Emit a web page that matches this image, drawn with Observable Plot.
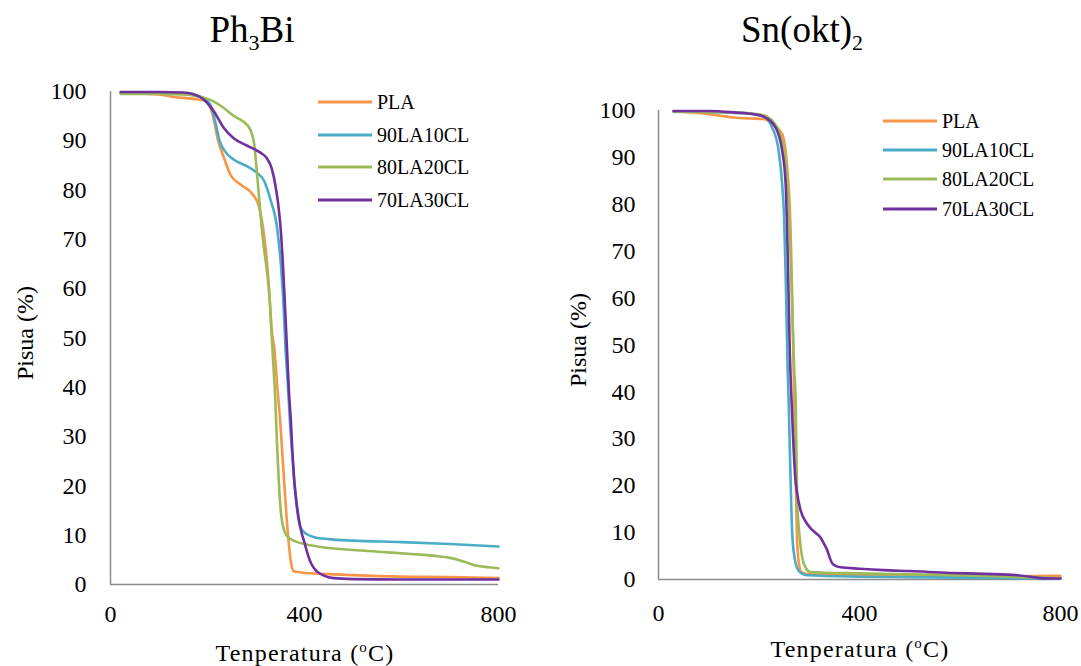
<!DOCTYPE html>
<html>
<head>
<meta charset="utf-8">
<script src="https://cdn.jsdelivr.net/npm/d3@7"></script>
<script src="https://cdn.jsdelivr.net/npm/@observablehq/plot@0.6"></script>
<style>
  body { margin: 0; background: #fff; }
  #root { position: relative; width: 1081px; height: 666px; font-family: "Liberation Serif", "Times New Roman", "DejaVu Serif", serif; color: #000; overflow: hidden; }
  .abs { position: absolute; white-space: nowrap; }
  .title { font-size: 37px; transform: translateX(-50%); }
  .axt { font-size: 24px; }
  .xt { letter-spacing: 1.2px; }
  .leg { font-size: 20px; display: flex; align-items: center; }
  .leg span.sw { display: inline-block; width: 54px; height: 3px; margin-right: 5px; }
  svg text { font-family: "Liberation Serif", "Times New Roman", "DejaVu Serif", serif; }
</style>
</head>
<body>
<div id="root"></div>
<script>
// ---------- data ----------
const seriesNames = ["PLA", "90LA10CL", "80LA20CL", "70LA30CL"];
const seriesColors = ["#F79646", "#4BACC6", "#9BBB59", "#7030A0"];
const xTicks = [0, 400, 800];
const yTicks = [0, 10, 20, 30, 40, 50, 60, 70, 80, 90, 100];
const panelTitles = ["Ph<sub style='font-size:22px'>3</sub>Bi", "Sn(okt)<sub style='font-size:22px'>2</sub>"];

// Panel 1: Ph3Bi  [temperature °C, weight %]
const ph_PLA = [[21,99.7],[60,99.6],[100,99.4],[130,98.9],[170,98.5],[195,98.1],[210,95.5],[222,90],[233,86.8],[248,83],[270,81],[290,79.5],[305,77],[315,72],[322,66],[327,60],[332,52],[338,47.6],[344,40],[350,33],[354,27],[360,18],[366,10],[372,4.5],[378,2.7],[390,2.5],[450,2.1],[500,1.9],[600,1.6],[700,1.5],[800,1.3]];
const ph_90LA10CL = [[21,99.8],[100,99.7],[150,99.5],[185,99],[205,97.5],[215,94.3],[225,90],[235,88],[254,86.2],[282,84.8],[302,83.5],[316,82],[330,78],[344,72],[352,64],[356,58],[361,47.6],[366,40],[370,33],[375,26],[380,20],[385,15],[392,11.5],[405,10.2],[420,9.6],[450,9.2],[500,8.9],[600,8.6],[700,8.2],[800,7.7]];
const ph_80LA20CL = [[21,99.5],[100,99.5],[150,99.4],[180,99],[206,98.3],[233,96.7],[255,95],[275,93.8],[288,92.3],[296,89.5],[302,83.5],[309,75.4],[316,68.5],[322,64],[328,58],[334,47.6],[340,37],[344,27],[348,19],[352,14],[358,11],[366,9.6],[380,8.8],[400,8.2],[450,7.4],[500,7],[560,6.6],[620,6.2],[670,5.8],[700,5.4],[730,4.6],[755,3.8],[780,3.5],[800,3.3]];
const ph_70LA30CL = [[21,99.9],[100,99.9],[150,99.8],[170,99.5],[192,98.4],[213,96],[233,92.7],[254,90.5],[282,89],[309,87.6],[322,86.5],[332,84.5],[340,81],[346,77],[351,72],[356,64],[360,56],[364,47.6],[368,39],[372,33],[375,27],[378,22],[383,17],[388,13.5],[394,10.5],[400,8.5],[407,6],[415,4],[425,2.7],[440,1.8],[460,1.3],[500,1.1],[600,1.0],[700,1.0],[800,1.0]];

// Panel 2: Sn(okt)2
const sn_PLA = [[30,99.8],[80,99.5],[117,99],[150,98.5],[183,98.3],[209,98.2],[229,96.8],[246,95],[256,88],[261,80],[264,70],[266,60],[268,50],[270,38],[273,22],[276,8],[280,3],[285,1.5],[300,1.1],[400,1.0],[500,0.9],[600,0.8],[700,0.7],[780,0.8],[800,0.8]];
const sn_90LA10CL = [[30,99.8],[100,99.7],[150,99.5],[190,99.2],[209,98.8],[226,96.4],[239,91.5],[246,84.4],[250,77],[253,65],[255,55],[257,45],[259,38],[262,25],[266,10],[271,4.5],[276,2.4],[285,1.3],[296,0.9],[400,0.6],[500,0.5],[600,0.4],[700,0.3],[800,0.2]];
const sn_80LA20CL = [[30,99.7],[100,99.7],[150,99.6],[190,99.3],[209,99],[229,97.5],[246,93.5],[255,87],[260,78],[264,66],[267,55],[270,45],[273,38],[276,17],[280,10],[286,4.7],[294,2.3],[302,1.6],[400,1.3],[500,1.1],[600,0.9],[700,0.6],[800,0.3]];
const sn_70LA30CL = [[30,99.9],[100,99.9],[150,99.6],[190,99.2],[209,98.7],[233,96.4],[246,91.5],[253,84.4],[257,70],[259,60],[261,50],[264,40],[268,30],[272,22],[276,18.3],[283,14.7],[292,12.5],[302,11],[312,10],[322,9],[330,7.5],[336,6.2],[342,4.3],[346,3.4],[355,2.8],[362,2.6],[400,2.3],[448,2.0],[500,1.8],[580,1.4],[650,1.2],[714,0.9],[740,0.6],[760,0.3],[800,0.2]];

const FONT = "'Liberation Serif', 'Times New Roman', 'DejaVu Serif', serif";

const panels = [
  { series: [ph_PLA, ph_90LA10CL, ph_80LA20CL, ph_70LA30CL],
    left: 0, width: 540, m: {l: 110, r: 42, t: 91, b: 82}, xPad: 20, yPad: 24,
    titleX: 252, titleY: 8, ylabX: 25, ylabY: 333, xlabX: 305, xlabY: 639,
    legX: 318, legY: 102, legDy: 32.5 },
  { series: [sn_PLA, sn_90LA10CL, sn_80LA20CL, sn_70LA30CL],
    left: 540, width: 541, m: {l: 118, r: 21, t: 110, b: 87}, xPad: 24, yPad: 23,
    titleX: 802, titleY: 8, ylabX: 578, ylabY: 340, xlabX: 860, xlabY: 635,
    legX: 883, legY: 121, legDy: 29.2 }
];

const root = document.getElementById("root");

panels.forEach((p, pi) => {
  const marks = [
    Plot.ruleX([0], {y1: 0, y2: 100, stroke: "#8c8c8c", strokeWidth: 1.5}),
    Plot.ruleY([0], {x1: 0, x2: 800, stroke: "#8c8c8c", strokeWidth: 1.5}),
    Plot.axisX({ticks: xTicks, tickSize: 0, tickPadding: p.xPad, label: null, tickFormat: d => String(d), fontFamily: FONT}),
    Plot.axisY({ticks: yTicks, tickSize: 0, tickPadding: p.yPad, label: null, tickFormat: d => String(d), fontFamily: FONT}),
    ...p.series.map((s, i) => Plot.line(s, {x: d => d[0], y: d => d[1], stroke: seriesColors[i], strokeWidth: 2.6, curve: "monotone-x"}))
  ];
  const chart = Plot.plot({
    width: p.width, height: 666,
    marginLeft: p.m.l, marginRight: p.m.r, marginTop: p.m.t, marginBottom: p.m.b,
    x: {domain: [0, 800]},
    y: {domain: [0, 100]},
    style: {fontFamily: FONT, fontSize: "24px", color: "#000", background: "transparent", overflow: "visible"},
    marks
  });
  const holder = document.createElement("div");
  holder.className = "abs";
  holder.style.left = p.left + "px";
  holder.style.top = "0px";
  holder.appendChild(chart);
  root.appendChild(holder);

  const t = document.createElement("div");
  t.className = "abs title";
  t.style.left = p.titleX + "px";
  t.style.top = p.titleY + "px";
  t.innerHTML = panelTitles[pi];
  root.appendChild(t);

  const yl = document.createElement("div");
  yl.className = "abs axt";
  yl.style.left = p.ylabX + "px";
  yl.style.top = p.ylabY + "px";
  yl.style.transform = "translate(-50%,-50%) rotate(-90deg)";
  yl.textContent = "Pisua (%)";
  root.appendChild(yl);

  const xl = document.createElement("div");
  xl.className = "abs axt xt";
  xl.style.left = p.xlabX + "px";
  xl.style.top = p.xlabY + "px";
  xl.style.transform = "translateX(-50%)";
  xl.innerHTML = "Tenperatura (<sup style='font-size:15px'>o</sup>C)";
  root.appendChild(xl);

  seriesNames.forEach((name, i) => {
    const row = document.createElement("div");
    row.className = "abs leg";
    row.style.left = p.legX + "px";
    row.style.top = (p.legY + i * p.legDy) + "px";
    row.style.transform = "translateY(-50%)";
    row.innerHTML = `<span class="sw" style="background:${seriesColors[i]}"></span><span>${name}</span>`;
    root.appendChild(row);
  });
});
</script>
</body>
</html>
